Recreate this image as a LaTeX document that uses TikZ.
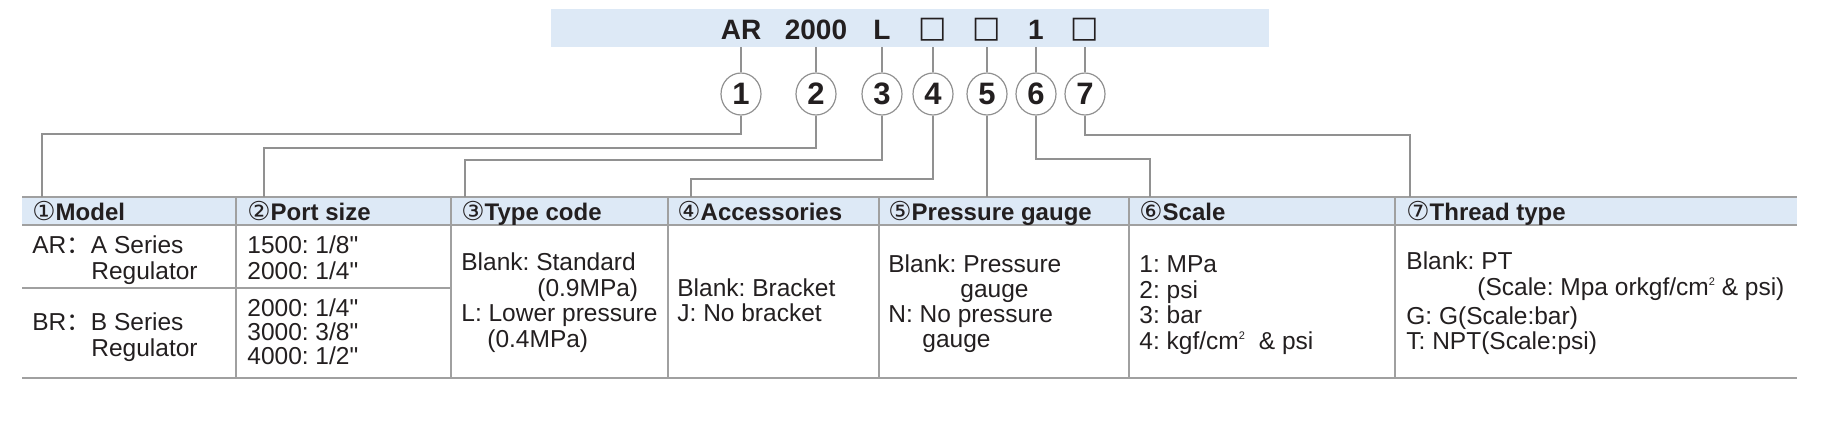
\documentclass[tikz,border=0pt]{standalone}
\usepackage{fontspec}
\setmainfont{Liberation Sans}
\newfontfamily\plainsans{Liberation Sans}
\newfontfamily\symfont{DejaVu Sans}
\newfontfamily\cjk{Noto Sans CJK SC}
\usetikzlibrary{shapes.geometric}
\frenchspacing

\definecolor{bandblue}{RGB}{221,233,246}
\definecolor{rulegray}{RGB}{160,160,160}
\definecolor{wiregray}{RGB}{145,145,145}
\definecolor{ink}{RGB}{35,31,32}

\newcommand{\circnum}[1]{{\symfont\fontsize{13}{13}\selectfont\mdseries #1}}
\newcommand{\blankbox}{{\symfont\fontsize{15}{15}\selectfont\mdseries □}}
\newcommand{\sqtwo}{\raisebox{5pt}{\fontsize{5.5}{5.5}\selectfont 2}}

\begin{document}
\begin{tikzpicture}[x=0.5pt, y=-0.5pt,
    code/.style={anchor=base, inner sep=0pt, text=ink, font=\plainsans\fontsize{14}{14}\selectfont\bfseries},
    num/.style={ellipse, draw=wiregray, line width=0.6pt, fill=white, inner sep=0pt,
        minimum width=20pt, minimum height=21pt, text=ink, font=\plainsans\fontsize{15.5}{15.5}\selectfont\bfseries},
    wire/.style={draw=wiregray, line width=0.6pt},
    rule/.style={draw=rulegray, line width=0.8pt},
    head/.style={anchor=base west, inner sep=0pt, text=ink, font=\plainsans\fontsize{12}{12}\selectfont\bfseries},
    body/.style={anchor=base west, inner sep=0pt, text=ink, font=\plainsans\fontsize{12.25}{13}\selectfont}]

\useasboundingbox (0,0) rectangle (1822,424);

% order code
\fill[bandblue] (551,9) rectangle (1269,47);
\coordinate (barbot) at (0,47);
\node[code] (c1) at (741,39) {AR};
\node[code] (c2) at (816,39) {2000};
\node[code] (c3) at (882,39) {L};
\node[code, anchor=center] (c4) at (933,29.5) {\blankbox};
\node[code, anchor=center] (c5) at (987,29.5) {\blankbox};
\node[code] (c6) at (1036,39) {1};
\node[code, anchor=center] (c7) at (1085,29.5) {\blankbox};

% numbered circles
\foreach \i/\x in {1/741,2/816,3/882,4/933,5/987,6/1036,7/1085}
    \node[num] (n\i) at (\x,94) {\i};
\foreach \i in {1,...,7}
    \draw[wire] (c\i |- barbot) -- (n\i);

% table
\fill[bandblue] (22,197) rectangle (1797,225);
\draw[rule] (22,197) -- (1797,197) (22,225) -- (1797,225) (22,378) -- (1797,378);
\draw[rule] (22,288) -- (451,288);
\foreach \x in {236,451,668,879,1129,1395}
    \draw[rule] (\x,197) -- (\x,378);

% connectors to the column heads
\coordinate (t1) at (42,197);
\coordinate (t2) at (264,197);
\coordinate (t3) at (465,197);
\coordinate (t4) at (691,197);
\coordinate (t5) at (987,197);
\coordinate (t6) at (1150,197);
\coordinate (t7) at (1410,197);
\foreach \i/\y in {1/134,2/148,3/160,4/179,6/159,7/135}
    \draw[wire] (n\i.south) -- (n\i.south |- 0,\y) -| (t\i);
\draw[wire] (n5) -- (t5);

% heads
\node[head] (h1) at (32,220) {\circnum{①}Model};
\node[head] (h2) at (247,220) {\circnum{②}Port size};
\node[head] (h3) at (461,220) {\circnum{③}Type code};
\node[head] (h4) at (677,220) {\circnum{④}Accessories};
\node[head] (h5) at (888,220) {\circnum{⑤}Pressure gauge};
\node[head] (h6) at (1139,220) {\circnum{⑥}Scale};
\node[head] (h7) at (1406,220) {\circnum{⑦}Thread type};

% model
\node[body] (model1) at (32,253) {AR{\cjk ：}A Series};
\node[body] (model2) at (91,279) {Regulator};
\node[body] (model3) at (32,330) {BR{\cjk ：}B Series};
\node[body] (model4) at (91,356) {Regulator};

% port size
\node[body] (port1) at (247,253) {1500: 1/8"};
\node[body] (port2) at (247,279) {2000: 1/4"};
\node[body] (port3) at (247,316) {2000: 1/4"};
\node[body] (port4) at (247,340) {3000: 3/8"};
\node[body] (port5) at (247,364) {4000: 1/2"};

% type code
\node[body] (type1) at (461,270) {Blank: Standard};
\node[body] (type2) at (537,296) {(0.9MPa)};
\node[body] (type3) at (461,321) {L: Lower pressure};
\node[body] (type4) at (487,347) {(0.4MPa)};

% accessories
\node[body] (acc1) at (677,296) {Blank: Bracket};
\node[body] (acc2) at (677,321) {J: No bracket};

% pressure gauge
\node[body] (gauge1) at (888,272) {Blank: Pressure};
\node[body] (gauge2) at (960,297) {gauge};
\node[body] (gauge3) at (888,322) {N: No pressure};
\node[body] (gauge4) at (922,347) {gauge};

% scale
\node[body] (scale1) at (1139,272) {1: MPa};
\node[body] (scale2) at (1139,298) {2: psi};
\node[body] (scale3) at (1139,323) {3: bar};
\node[body] (scale4) at (1139,349) {4: kgf/cm\sqtwo\hspace{7pt}\& psi};

% thread type
\node[body] (thread1) at (1406,269) {Blank: PT};
\node[body] (thread2) at (1477,295) {(Scale: Mpa orkgf/cm\sqtwo{} \& psi)};
\node[body] (thread3) at (1406,324) {G: G(Scale:bar)};
\node[body] (thread4) at (1406,349) {T: NPT(Scale:psi)};
\end{tikzpicture}
\end{document}
